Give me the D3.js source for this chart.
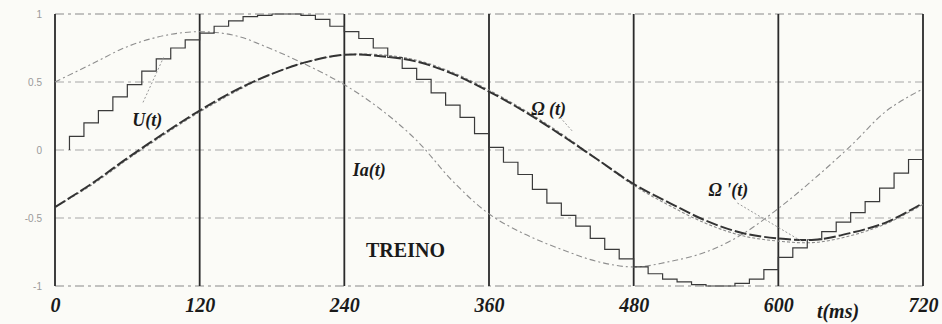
<!DOCTYPE html>
<html>
<head>
<meta charset="utf-8">
<script src="https://cdn.jsdelivr.net/npm/d3@7/dist/d3.min.js"></script>
<style>
  html, body { margin: 0; padding: 0; background: #fbfbf7; }
  svg { display: block; }
</style>
</head>
<body>
<svg id="chart" width="942" height="324"></svg>
<script>
// ---- data ----
const xTicks = [0, 120, 240, 360, 480, 600, 720];
const yTicks = [1, 0.5, 0, -0.5, -1];
const yTickLabels = ["1", "0.5", "0", "-0.5", "-1"];

// smooth curves sampled every 30 ms
const tSmooth = [0,30,60,90,120,150,180,210,240,270,300,330,360,390,420,450,480,510,540,570,600,630,660,690,720];
const omega   = [-0.42,-0.25,-0.06,0.12,0.29,0.44,0.56,0.65,0.70,0.69,0.65,0.56,0.43,0.28,0.11,-0.07,-0.25,-0.39,-0.52,-0.61,-0.65,-0.66,-0.61,-0.53,-0.39];
const omegaP  = [-0.42,-0.26,-0.07,0.11,0.28,0.43,0.56,0.65,0.70,0.70,0.66,0.57,0.44,0.29,0.12,-0.07,-0.26,-0.41,-0.54,-0.63,-0.67,-0.68,-0.63,-0.54,-0.40];
const ia      = [0.50,0.63,0.76,0.84,0.87,0.84,0.74,0.62,0.48,0.30,0.07,-0.23,-0.47,-0.62,-0.73,-0.82,-0.86,-0.82,-0.75,-0.62,-0.43,-0.21,0.03,0.29,0.45];

// staircase U(t): step start times (12 ms hold) and held values
const tStep = [12,24,36,48,60,72,84,96,108,120,132,144,156,168,180,192,204,216,228,240,252,264,276,288,300,312,324,336,348,360,372,384,396,408,420,432,444,456,468,480,492,504,516,528,540,552,564,576,588,600,612,624,636,648,660,672,684,696,708];
const uStep = [0.10,0.20,0.29,0.39,0.48,0.58,0.67,0.75,0.81,0.86,0.91,0.95,0.98,0.99,1.00,1.00,0.99,0.96,0.91,0.87,0.82,0.75,0.68,0.60,0.52,0.42,0.33,0.24,0.12,0.02,-0.09,-0.18,-0.29,-0.39,-0.48,-0.56,-0.65,-0.73,-0.80,-0.86,-0.91,-0.95,-0.97,-0.99,-1.00,-1.00,-0.98,-0.95,-0.88,-0.79,-0.72,-0.66,-0.60,-0.53,-0.46,-0.38,-0.28,-0.17,-0.07];
const uEnd = 720;

// annotations (data units)
const labelText = ["U(t)", "\u03A9 (t)", "Ia(t)", "\u03A9 '(t)"];
const labelT    = [64, 395, 247, 542];
const labelV    = [0.18, 0.26, -0.19, -0.34];
const leaderT1  = [73, 419, 566];
const leaderV1  = [0.35, 0.24, -0.39];
const leaderT2  = [90, 430, 621];
const leaderV2  = [0.68, 0.13, -0.68];

// ---- drawing ----
const svg = d3.select("#chart");
const x = d3.scaleLinear().domain([0, 720]).range([55, 923]);
const y = d3.scaleLinear().domain([-1, 1]).range([286, 14]);

// horizontal dashed grid
svg.append("g").selectAll("line").data(yTicks).join("line")
  .attr("x1", x(0)).attr("x2", x(720))
  .attr("y1", d => y(d)).attr("y2", d => y(d))
  .attr("stroke", d => Math.abs(d) === 1 ? "#8a8a8a" : "#a8a8a8")
  .attr("stroke-width", 1.1)
  .attr("stroke-dasharray", "9,4,3,4");

// vertical solid grid
svg.append("g").selectAll("line").data(xTicks).join("line")
  .attr("x1", d => x(d)).attr("x2", d => x(d))
  .attr("y1", y(1)).attr("y2", y(-1))
  .attr("stroke", "#2a2a2a").attr("stroke-width", 1.8);

// y tick labels (faint)
svg.append("g").selectAll("text").data(yTicks).join("text")
  .attr("x", 42).attr("y", d => y(d) + 4)
  .attr("text-anchor", "end")
  .attr("font-family", "Liberation Sans, Arial, sans-serif")
  .attr("font-size", 10).attr("fill", "#9a9a9a")
  .text((d, i) => yTickLabels[i]);

// x axis labels via d3 axis
const xAxis = d3.axisBottom(x).tickValues(xTicks).tickSize(0).tickPadding(0).tickFormat(d3.format("d"));
const gx = svg.append("g").attr("transform", "translate(0,296)").call(xAxis);
gx.select(".domain").remove();
gx.selectAll("text")
  .attr("font-family", "Liberation Serif, Times New Roman, serif")
  .attr("font-size", 20).attr("font-weight", "bold").attr("font-style", "italic")
  .attr("fill", "#1a1a1a").attr("dy", "0.8em");

svg.append("text").attr("x", x(632)).attr("y", 318)
  .attr("font-family", "Liberation Serif, Times New Roman, serif")
  .attr("font-size", 20).attr("font-weight", "bold").attr("font-style", "italic")
  .attr("fill", "#1a1a1a").text("t(ms)");

// curves
const lineGen = d3.line().x(d => x(d[0])).y(d => y(d[1])).curve(d3.curveCatmullRom);

svg.append("path").datum(tSmooth.map((t, i) => [t, ia[i]]))
  .attr("d", lineGen).attr("fill", "none")
  .attr("stroke", "#8e8e8e").attr("stroke-width", 1.1)
  .attr("stroke-dasharray", "6,3,2,3");

svg.append("path").datum(tSmooth.map((t, i) => [t, omegaP[i]]))
  .attr("d", lineGen).attr("fill", "none")
  .attr("stroke", "#8a8a8a").attr("stroke-width", 1.1)
  .attr("stroke-dasharray", "3,2");

svg.append("path").datum(tSmooth.map((t, i) => [t, omega[i]]))
  .attr("d", lineGen).attr("fill", "none")
  .attr("stroke", "#333").attr("stroke-width", 2)
  .attr("stroke-dasharray", "12,3");

// staircase
const stepData = tStep.map((t, i) => [t, uStep[i]]);
stepData.push([uEnd, uStep[uStep.length - 1]]);
const stepGen = d3.line().x(d => x(d[0])).y(d => y(d[1])).curve(d3.curveStepAfter);
svg.append("path").datum([[tStep[0], 0]].concat(stepData))
  .attr("d", stepGen).attr("fill", "none")
  .attr("stroke", "#3a3a3a").attr("stroke-width", 1.2);

// leader lines
svg.append("g").selectAll("line").data(leaderT1).join("line")
  .attr("x1", (d, i) => x(leaderT1[i])).attr("y1", (d, i) => y(leaderV1[i]))
  .attr("x2", (d, i) => x(leaderT2[i])).attr("y2", (d, i) => y(leaderV2[i]))
  .attr("stroke", "#999").attr("stroke-width", 1)
  .attr("stroke-dasharray", "2,2");

// curve labels
svg.append("g").selectAll("text").data(labelText).join("text")
  .attr("x", (d, i) => x(labelT[i])).attr("y", (d, i) => y(labelV[i]))
  .attr("font-family", "Liberation Serif, Times New Roman, serif")
  .attr("font-size", 18).attr("font-weight", "bold").attr("font-style", "italic")
  .attr("fill", "#1a1a1a").text(d => d);

svg.append("text").attr("x", x(258)).attr("y", y(-0.79))
  .attr("font-family", "Liberation Serif, Times New Roman, serif")
  .attr("font-size", 20).attr("font-weight", "bold")
  .attr("fill", "#1a1a1a").text("TREINO");
</script>
</body>
</html>
